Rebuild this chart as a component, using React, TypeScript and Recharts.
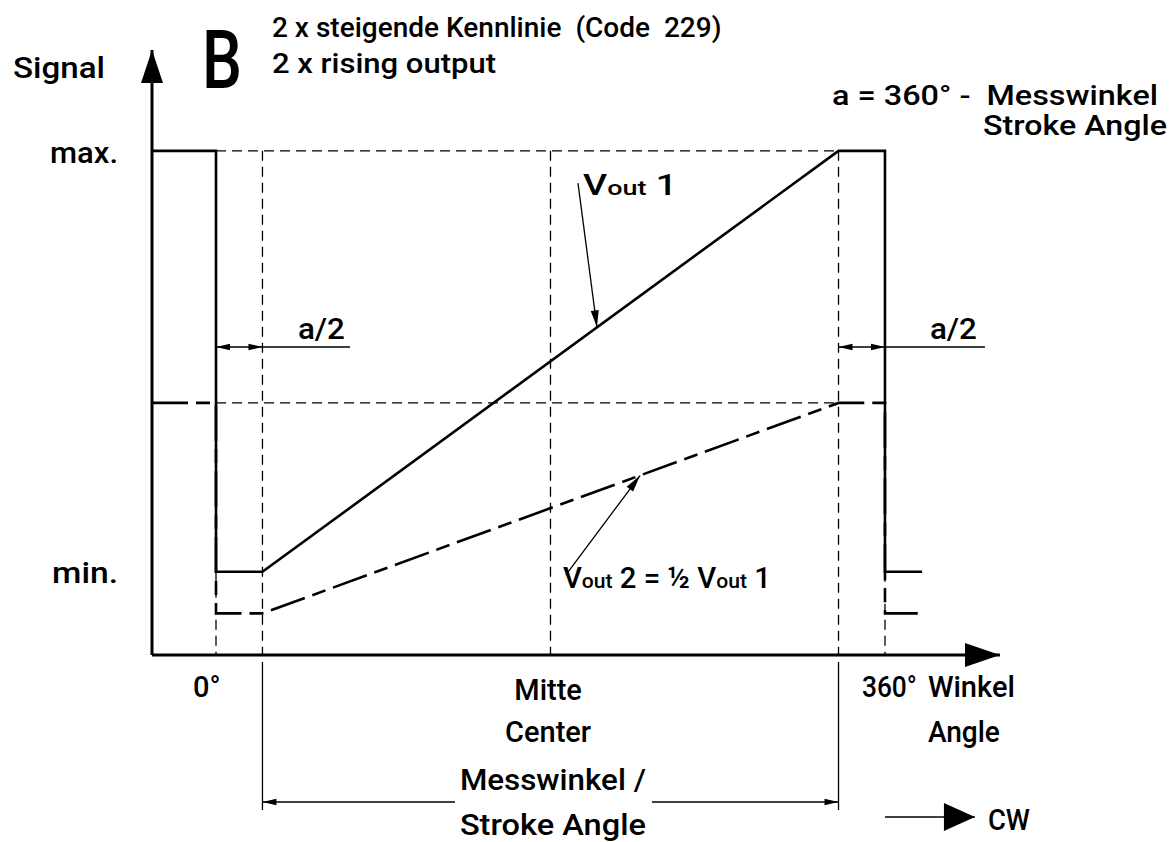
import React from 'react';
import { ComposedChart, Line, XAxis, YAxis, ReferenceLine, ReferenceDot } from 'recharts';

// ---- scale frame (x: angle in degrees, y: signal in % of full scale) ----
const X_MIN = -34.44;
const X_MAX = 421.9;
const Y_MIN = 0;
const Y_MAX = 120;

// ---- signal levels ----
const SIGNAL_MAX = 100;
const SIGNAL_MIN = 16.5;
const HALF_MAX = 50;
const HALF_MIN = 8.25;

// ---- angle breakpoints ----
const ANGLE_ZERO = 0;
const ANGLE_START = 25; // a/2
const ANGLE_CENTER = 180;
const ANGLE_END = 335; // 360 - a/2
const ANGLE_FULL = 360;
const ANGLE_TAIL = 380;

// Vout 1 (solid)
const vout1 = [
  { x: X_MIN, y: SIGNAL_MAX },
  { x: ANGLE_ZERO, y: SIGNAL_MAX },
  { x: ANGLE_ZERO, y: SIGNAL_MIN },
  { x: ANGLE_START, y: SIGNAL_MIN },
  { x: ANGLE_END, y: SIGNAL_MAX },
  { x: ANGLE_FULL, y: SIGNAL_MAX },
  { x: ANGLE_FULL, y: SIGNAL_MIN },
  { x: ANGLE_TAIL, y: SIGNAL_MIN },
];

// Vout 2 = 1/2 Vout 1 (dash-dot)
const vout2 = [
  { x: X_MIN, y: HALF_MAX },
  { x: ANGLE_ZERO, y: HALF_MAX },
  { x: ANGLE_ZERO, y: HALF_MIN },
  { x: ANGLE_START, y: HALF_MIN },
  { x: ANGLE_END, y: HALF_MAX },
  { x: ANGLE_FULL, y: HALF_MAX },
  { x: ANGLE_FULL, y: HALF_MIN },
  { x: ANGLE_TAIL, y: HALF_MIN },
];

// thin dashed guide lines [x1, y1, x2, y2]
const guides: [number, number, number, number][] = [
  [ANGLE_ZERO, SIGNAL_MAX, ANGLE_END, SIGNAL_MAX],
  [ANGLE_ZERO, HALF_MAX, ANGLE_END, HALF_MAX],
  [ANGLE_ZERO, SIGNAL_MIN, ANGLE_ZERO, Y_MIN],
  [ANGLE_START, SIGNAL_MAX, ANGLE_START, Y_MIN],
  [ANGLE_CENTER, SIGNAL_MAX, ANGLE_CENTER, Y_MIN],
  [ANGLE_END, SIGNAL_MAX, ANGLE_END, Y_MIN],
  [ANGLE_FULL, SIGNAL_MIN, ANGLE_FULL, Y_MIN],
];

// dimension level values
const DIM_A2 = 61.09;
const DIM_STROKE = -29.16;
const EXT_TOP = -1.39;
const EXT_BOTTOM = -30.74;
const CW_LEVEL = -32.13;

// thin solid extension lines below the axis
const extensions: [number, number, number, number][] = [
  [ANGLE_START, EXT_TOP, ANGLE_START, EXT_BOTTOM],
  [ANGLE_END, EXT_TOP, ANGLE_END, EXT_BOTTOM],
];

// arrows: [x1, y1, x2, y2, headAtStart, headAtEnd, headKind]
type HeadKind = 'dim' | 'leader' | 'big';
const arrows: [number, number, number, number, boolean, boolean, HeadKind][] = [
  [ANGLE_ZERO, DIM_A2, ANGLE_START, DIM_A2, true, true, 'dim'],
  [ANGLE_START, DIM_A2, 72.1, DIM_A2, false, false, 'dim'],
  [ANGLE_END, DIM_A2, ANGLE_FULL, DIM_A2, true, true, 'dim'],
  [ANGLE_FULL, DIM_A2, 413.8, DIM_A2, false, false, 'dim'],
  [ANGLE_START, DIM_STROKE, 128.6, DIM_STROKE, true, false, 'dim'],
  [234.6, DIM_STROKE, ANGLE_END, DIM_STROKE, false, true, 'dim'],
  [194.8, 93.6, 205.0, 65.0, false, true, 'leader'],
  [188.3, 15.9, 228.2, 35.6, false, true, 'leader'],
  [ANGLE_FULL, CW_LEVEL, 408.4, CW_LEVEL, false, true, 'big'],
];

// text labels (w = rendered width in px, to match the reference lettering)
type Anchor = 'start' | 'middle' | 'end';
interface Note { text: string; x: number; y: number; anchor: Anchor; size: number; w?: number }
const notes: Note[] = [
  { text: 'Signal', x: -109.2, y: 114.45, anchor: 'start', size: 29, w: 92 },
  { text: 'B', x: -7.53, y: 112.5, anchor: 'start', size: 82, w: 40 },
  { text: '2 x steigende Kennlinie  (Code  229)', x: 30.13, y: 122.6, anchor: 'start', size: 28 },
  { text: '2 x rising output', x: 30.13, y: 115.4, anchor: 'start', size: 28, w: 224 },
  { text: 'a = 360° -  Messwinkel', x: 331.5, y: 109.1, anchor: 'start', size: 28, w: 326 },
  { text: 'Stroke Angle', x: 511.8, y: 103.1, anchor: 'end', size: 28, w: 184 },
  { text: 'max.', x: -52.7, y: 97.6, anchor: 'end', size: 29, w: 68 },
  { text: 'min.', x: -52.7, y: 14.3, anchor: 'end', size: 29, w: 66 },
  { text: 'Vout 1', x: 197.5, y: 91.2, anchor: 'start', size: 29, w: 94 },
  { text: 'Vout 2 = ½ Vout 1', x: 186.7, y: 13.3, anchor: 'start', size: 29, w: 208 },
  { text: 'a/2', x: 44.1, y: 62.68, anchor: 'start', size: 29, w: 47 },
  { text: 'a/2', x: 384.2, y: 62.68, anchor: 'start', size: 29, w: 47 },
  { text: '0°', x: -12.4, y: -8.33, anchor: 'start', size: 29 },
  { text: 'Mitte', x: 178.7, y: -8.93, anchor: 'middle', size: 29 },
  { text: 'Center', x: 178.7, y: -17.26, anchor: 'middle', size: 29 },
  { text: '360°', x: 347.6, y: -8.33, anchor: 'start', size: 29, w: 55 },
  { text: 'Winkel', x: 383.1, y: -8.33, anchor: 'start', size: 29, w: 87 },
  { text: 'Angle', x: 383.1, y: -17.26, anchor: 'start', size: 29, w: 72 },
  { text: 'Messwinkel /', x: 181.3, y: -26.78, anchor: 'middle', size: 29, w: 186 },
  { text: 'Stroke Angle', x: 181.3, y: -35.7, anchor: 'middle', size: 29, w: 186 },
  { text: 'CW', x: 415.4, y: -34.7, anchor: 'start', size: 29, w: 42 },
];

const FONT = 'Roboto, "DejaVu Sans", sans-serif';
const INK = '#000';

const headSize: Record<HeadKind, [number, number]> = {
  dim: [14, 3.2],
  leader: [17, 4],
  big: [31, 14],
};

function head(tx: number, ty: number, dx: number, dy: number, len: number, half: number) {
  const bx = tx - dx * len;
  const by = ty - dy * len;
  const nx = -dy;
  const ny = dx;
  return `${tx},${ty} ${bx + nx * half},${by + ny * half} ${bx - nx * half},${by - ny * half}`;
}

const arrowShape = (atStart: boolean, atEnd: boolean, kind: HeadKind) => (p: any) => {
  const { x1, y1, x2, y2 } = p;
  const L = Math.hypot(x2 - x1, y2 - y1) || 1;
  const dx = (x2 - x1) / L;
  const dy = (y2 - y1) / L;
  const [len, half] = headSize[kind];
  const sw = kind === 'big' ? 1.6 : 1.3;
  return (
    <g>
      <line x1={x1} y1={y1} x2={x2} y2={y2} stroke={INK} strokeWidth={sw} />
      {atEnd && <polygon points={head(x2, y2, dx, dy, len, half)} fill={INK} />}
      {atStart && <polygon points={head(x1, y1, -dx, -dy, len, half)} fill={INK} />}
    </g>
  );
};

function renderRich(text: string, size: number) {
  const parts = text.split('Vout');
  const out: React.ReactNode[] = [];
  parts.forEach((part, i) => {
    if (i > 0) {
      out.push(<tspan key={`v${i}`}>V</tspan>);
      out.push(<tspan key={`o${i}`} fontSize={size * 0.72}>out</tspan>);
    }
    if (part) out.push(<tspan key={`p${i}`} fontSize={size}>{part}</tspan>);
  });
  return out;
}

const textShape = (n: Note) => (p: any) => (
  <text
    x={p.cx}
    y={p.cy}
    textAnchor={n.anchor}
    fontSize={n.size}
    fontFamily={FONT}
    fontWeight={500}
    fill={INK}
    style={{ whiteSpace: 'pre' }}
    {...(n.w ? { textLength: n.w, lengthAdjust: 'spacingAndGlyphs' } : {})}
  >
    {renderRich(n.text, n.size)}
  </text>
);

const axisArrowRight = (p: any) => (
  <polygon points={head(p.cx, p.cy, 1, 0, 35, 12)} fill={INK} />
);
const axisArrowUp = (p: any) => (
  <polygon points={head(p.cx, p.cy, 0, -1, 33, 11)} fill={INK} />
);

export default function App() {
  return (
    <div style={{ position: 'absolute', left: 0, top: 0, width: 1169, height: 842, background: '#fff' }}>
      <ComposedChart
        width={1169}
        height={842}
        margin={{ top: 50, right: 169, bottom: 157, left: 92 }}
      >
        <XAxis
          type="number"
          dataKey="x"
          domain={[X_MIN, X_MAX]}
          allowDataOverflow
          height={30}
          tick={false}
          tickLine={false}
          axisLine={{ stroke: INK, strokeWidth: 3 }}
        />
        <YAxis
          type="number"
          dataKey="y"
          domain={[Y_MIN, Y_MAX]}
          allowDataOverflow
          width={60}
          tick={false}
          tickLine={false}
          axisLine={{ stroke: INK, strokeWidth: 3 }}
        />
        {guides.map((g, i) => (
          <ReferenceLine
            key={`g${i}`}
            segment={[{ x: g[0], y: g[1] }, { x: g[2], y: g[3] }]}
            stroke={INK}
            strokeWidth={1.3}
            strokeDasharray="10 6"
            ifOverflow="visible"
          />
        ))}
        {extensions.map((g, i) => (
          <ReferenceLine
            key={`e${i}`}
            segment={[{ x: g[0], y: g[1] }, { x: g[2], y: g[3] }]}
            stroke={INK}
            strokeWidth={1.3}
            ifOverflow="visible"
          />
        ))}
        <Line
          data={vout2}
          dataKey="y"
          type="linear"
          stroke={INK}
          strokeWidth={2.6}
          strokeDasharray="36 8 14 8"
          dot={false}
          activeDot={false}
          isAnimationActive={false}
        />
        <Line
          data={vout1}
          dataKey="y"
          type="linear"
          stroke={INK}
          strokeWidth={2.6}
          dot={false}
          activeDot={false}
          isAnimationActive={false}
        />
        {arrows.map((a, i) => (
          <ReferenceLine
            key={`a${i}`}
            segment={[{ x: a[0], y: a[1] }, { x: a[2], y: a[3] }]}
            ifOverflow="visible"
            shape={arrowShape(a[4], a[5], a[6])}
          />
        ))}
        <ReferenceDot x={X_MAX} y={Y_MIN} ifOverflow="visible" shape={axisArrowRight} />
        <ReferenceDot x={X_MIN} y={Y_MAX} ifOverflow="visible" shape={axisArrowUp} />
        {notes.map((n, i) => (
          <ReferenceDot key={`n${i}`} x={n.x} y={n.y} ifOverflow="visible" shape={textShape(n)} />
        ))}
      </ComposedChart>
    </div>
  );
}
